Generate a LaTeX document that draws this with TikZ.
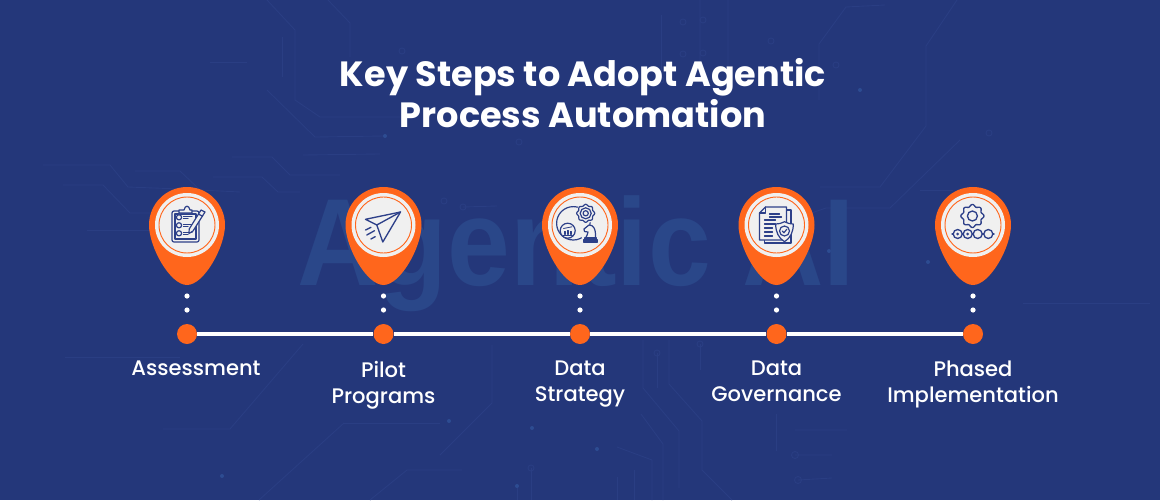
\documentclass[tikz,border=0pt]{standalone}
\usepackage{fontspec}
\setmainfont{Poppins}
\newfontfamily\labelfont{Poppins Medium}
\newfontfamily\ghostfont{Liberation Sans}[FakeStretch=0.91]
\definecolor{bgblue}{HTML}{24377A}
\definecolor{trace}{HTML}{2A3E83}
\definecolor{ghost}{HTML}{2A4789}
\definecolor{glowdot}{HTML}{2D4C92}
\definecolor{pinorange}{HTML}{FF661C}
\definecolor{disc}{HTML}{F0F0F0}
\definecolor{iconblue}{HTML}{2D4089}
\tikzset{
  x=0.75pt,y=-0.75pt,
  tracewire/.style={draw=trace,line width=0.65pt,line join=round},
  ico/.style={draw=iconblue,line width=0.9pt,line join=round,line cap=round},
  stopdot/.style={circle,fill=pinorange,minimum size=15pt,inner sep=0pt},
  smalldot/.style={circle,fill=white,minimum size=3.9pt,inner sep=0pt},
  steplabel/.style={anchor=north,align=center,text=white,inner sep=0pt,font=\labelfont\fontsize{15.8}{19.5}\selectfont},
  pics/pin/.style={code={
    \fill[pinorange] (0,-38) .. controls (21,-38) and (38,-21) .. (38,0)
      .. controls (38,22) and (17,60) .. (0,60)
      .. controls (-17,60) and (-38,22) .. (-38,0)
      .. controls (-38,-21) and (-21,-38) .. (0,-38) -- cycle;
    \fill[disc] (0,0) circle[radius=32];
    \draw[pinorange,line width=0.7pt] (0,0) circle[radius=28];
  }},
  pics/clipicon/.style={code={
    \draw[ico,rounded corners=1.5pt] (-15,-14) rectangle (12,17);
    \draw[ico] (-12,-11) rectangle (9,14);
    \draw[ico,fill=disc] (-8,-12) -- (-8,-15) -- (-3,-15) .. controls (-2,-20) and (2,-20) .. (3,-15) -- (5,-15) -- (5,-12) -- cycle;
    \foreach \yy in {-7.7,0.3,8.3}{
      \draw[ico,fill=disc] (-8,\yy) circle[radius=2.6];
      \draw[ico] (-3.5,\yy-1) -- (5,\yy-1);
      \draw[ico] (-3.5,\yy+1.5) -- (1,\yy+1.5);
    }
    \draw[ico,fill=disc] (14,-15) -- (18,-13) -- (6,6) -- (2,8.5) -- (2.2,4) -- cycle;
    \draw[ico] (11.5,-11) -- (15.5,-8.7);
  }},
  pics/planeicon/.style={code={
    \draw[ico,line width=1pt] (17,-13) -- (-18,-5.7) -- (-6.7,0) -- (-0.7,17) -- cycle;
    \draw[ico,line width=1pt] (-6.7,0) -- (17,-13);
    \draw[ico,line width=1pt] (-18,5) -- (-12.6,2.3) (-16.7,10) -- (-9,5.7) (-12.6,14) -- (-8.3,11.7);
  }},
  pics/gearshape/.style={code={
    \draw[ico,#1] plot[domain=0:360,samples=65,smooth] ({(\gearR+\gearA*cos(8*\x))*cos(\x)},{(\gearR+\gearA*cos(8*\x))*sin(\x)}) -- cycle;
  }},
  pics/straticon/.style={code={
    \draw[ico] (-6.7,-1.7) circle[radius=16.7];
    \def\gearR{8.3}\def\gearA{0.7}
    \fill[disc] (5.7,-11.7) circle[radius=10];
    \pic at (5.7,-11.7) {gearshape={}};
    \draw[ico] (5.7,-11.7) circle[radius=5.5] circle[radius=2.6];
    \draw[ico,fill=disc] (-12.3,5.7) circle[radius=7.5];
    \draw[ico,line width=0.6pt] (-17,10) -- (-7.5,10) (-16,9.5) -- (-16,6) -- (-14.6,6) -- (-14.6,9.5) (-13,9.5) -- (-13,5) -- (-11.6,5) -- (-11.6,9.5) (-10,9.5) -- (-10,6) -- (-8.6,6) -- (-8.6,9.5);
    \draw[ico,line width=0.6pt] (-16.5,3.5) -- (-8,1.8);
    \fill[disc] (10,9) circle[radius=9];
    \draw[ico,fill=disc] (5.5,13) .. controls (6,11) and (8.5,9) .. (8,7) -- (4.5,6.5) -- (4,4) -- (9,0) .. controls (13,0) and (16,3) .. (15.5,13) -- cycle;
    \draw[ico,fill=disc] (5,13) rectangle (16.5,15);
    \draw[ico,fill=disc] (3.5,15) rectangle (17.5,17);
  }},
  pics/govicon/.style={code={
    \draw[ico,fill=disc] (-12,-15) -- (14.5,-15) -- (14.5,18) -- (-12,18) -- cycle;
    \draw[ico,fill=disc] (-11,-18) -- (10,-18) -- (10,15) -- (-17,15) -- (-17,-12) -- cycle;
    \draw[ico] (-17,-12) -- (-11,-12) -- (-11,-18);
    \draw[ico] (-7,-11) -- (3,-11) (-7,-8) -- (5,-8) (-12,-5) -- (-1,-5) (-12,-1) -- (-1,-1) (-12,3) -- (-4,3) (-12,7) -- (-4,7) (-12,11) -- (-4,11);
    \draw[ico,fill=disc] (8,-3.3) .. controls (11,-1.5) and (14,-1) .. (16.8,-1) .. controls (16.8,7) and (14,13) .. (8,16.7) .. controls (2,13) and (-0.8,7) .. (-0.8,-1) .. controls (2,-1) and (5,-1.5) .. (8,-3.3) -- cycle;
    \draw[ico] (8,6) circle[radius=5];
    \draw[ico] (5.8,6) -- (7.5,7.7) -- (10.3,4.2);
  }},
  pics/phasedicon/.style={code={
    \def\gearR{10.5}\def\gearA{1.1}
    \pic at (-0.6,-9) {gearshape={line width=1pt}};
    \draw[ico,line width=1pt] (-0.6,-9) circle[radius=5];
    \draw[ico,line width=1pt] (-21,9) -- (21,9);
    \foreach \xx in {-15.3,-5.3,4.7,15.3}{
      \draw[ico,line width=1pt,fill=disc] (\xx,9) circle[radius=4.5];
    }
    \fill[iconblue] (-15.3,9) circle[radius=1.5] (-5.3,9) circle[radius=1.5];
  }},
}
\begin{document}
\begin{tikzpicture}
\useasboundingbox (0,0) rectangle (1160,500);
\fill[bgblue] (0,0) rectangle (1160,500);
% faint circuit traces
\begin{scope}[tracewire]
% upper left
\draw (267,0) -- (295,30) -- (295,100) -- (320,117) -- (400,117);
\draw (267,90) -- (315,137) -- (385,136);
\draw (282,37) -- (282,77);
\draw (328,0) -- (350,23) -- (350,57);
\draw (210,62) -- (247,62);
\draw (303,155) -- (380,154);
\draw (232,157) -- (272,157) -- (290,175) -- (340,175);
\draw (213,177) -- (262,177) -- (278,192) -- (300,192);
\draw (43,165) -- (110,165) -- (128,187) -- (180,189);
\draw (135,171) -- (180,171) -- (200,190) -- (240,192);
\draw (63,185) -- (103,185) -- (130,213) -- (150,213);
\draw (87,230) -- (150,230);
% upper right
\draw (957,0) -- (926,46) -- (926,126) -- (880,187) -- (820,187);
\draw (960,140) -- (890,208) -- (826,208) -- (768,228);
\draw (885,5) -- (846,7) -- (819,44) -- (819,100);
\draw (661,15) -- (661,80);
\draw (463,207) -- (497,206);
\draw (700,0) -- (700,70) (728,0) -- (728,90) -- (700,120);
\draw (920,190) -- (953,190) (1023,303) -- (1150,303);
% lower left
\draw (303,344) -- (230,429) -- (163,429);
\draw (344,423) -- (259,500);
\draw (344,423) -- (440,423);
\draw (440,455) -- (492,403) -- (492,345);
\draw (370,500) -- (407,470) -- (462,470);
\draw (531,468) -- (531,500);
\draw (517,486) -- (517,500);
\draw (65,357) -- (180,357);
% lower middle
\draw (657,353) -- (657,388);
\draw (700,344) -- (700,370);
\draw (643,340) -- (643,388) -- (679,431) -- (679,488);
\draw (669,340) -- (669,384) -- (702,421) -- (702,470) -- (732,500);
\draw (617,477) -- (617,500) (634,470) -- (634,500);
\draw (641,414) -- (663,444) -- (663,500);
\draw (617,447) -- (652,460) -- (652,500);
\draw (795,455) -- (832,455) (798,480) -- (832,478) (795,430) -- (847,430);
\draw (776,414) -- (776,451);
\foreach \px/\py in {683/22,703/20,683/54,703/53,661/80,402/51,463/207,444/201,519/142,627/85,836/65,989/133,795/247,771/41,531/468,657/353,700/344}{
  \draw (\px,\py) circle[radius=3];
}
\draw (795,455) circle[radius=3.5] (798,480) circle[radius=3.5];
\end{scope}
\foreach \gx/\gy in {385/136,860/90,829/251,222/476,449/421,532/428,597/449,928/262,517/486}{
  \fill[glowdot] (\gx,\gy) circle[radius=2];
}
% ghost word
\node[anchor=base,text=ghost,inner sep=0pt,font=\ghostfont\bfseries\fontsize{93}{93}\selectfont] (ghostword) at (576,285) {Agentic AI};
% title
\node[anchor=north,align=center,text=white,inner sep=0pt,font=\fontsize{26.3}{30.75}\selectfont\bfseries] (title) at (583,58) {Key Steps to Adopt Agentic\\Process Automation};
% connector and stops
\node[stopdot] (s1) at (187,334) {};
\node[stopdot] (s2) at (383.5,334) {};
\node[stopdot] (s3) at (580,334) {};
\node[stopdot] (s4) at (776.5,334) {};
\node[stopdot] (s5) at (973,334) {};
\draw[white,line width=2.4pt] (s1) -- (s2) -- (s3) -- (s4) -- (s5);
\foreach \n/\cx in {1/187,2/383.5,3/580,4/776.5,5/973}{
  \node[smalldot] (da\n) at (\cx,296) {};
  \node[smalldot] (db\n) at (\cx,310) {};
  \pic at (\cx,225) {pin};
}
\pic at (187,225) {clipicon};
\pic at (383.5,225) {planeicon};
\pic at (580,225) {straticon};
\pic at (776.5,225) {govicon};
\pic at (973,225) {phasedicon};
% labels
\node[steplabel] (l1) at (196,361) {Assessment};
\node[steplabel] (l2) at (383.5,361) {Pilot\\Programs};
\node[steplabel] (l3) at (580,361) {Data\\Strategy};
\node[steplabel] (l4) at (776.5,361) {Data\\Governance};
\node[steplabel] (l5) at (973,361) {Phased\\Implementation};
\end{tikzpicture}
\end{document}
